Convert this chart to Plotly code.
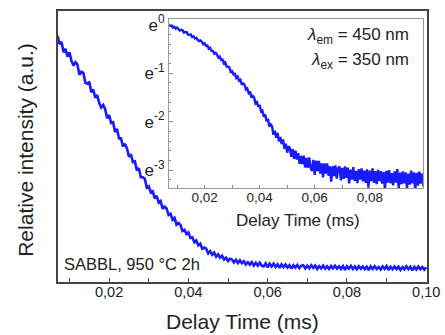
import numpy as np
import plotly.graph_objects as go

# Delay time (ms), read every 0.0005 ms from 0.007 to 0.100
t_ms = [round(0.007 + 0.0005 * i, 4) for i in range(187)]
# ln(relative intensity) (natural-log axis), noisy trace
ln_intensity = [
    0.01, -0.025, -0.015, -0.06, -0.045, -0.08, -0.06, -0.10, -0.12, -0.105,
    -0.115, -0.165, -0.15, -0.155, -0.205, -0.21, -0.20, -0.255, -0.24, -0.285,
    -0.27, -0.315, -0.34, -0.325, -0.35, -0.405, -0.385, -0.435, -0.43, -0.495,
    -0.475, -0.54, -0.54, -0.60, -0.58, -0.615, -0.68, -0.66, -0.725, -0.72,
    -0.80, -0.78, -0.865, -0.865, -0.88, -0.975, -0.96, -1.025, -1.015, -1.10,
    -1.07, -1.155, -1.135, -1.24, -1.21, -1.235, -1.335, -1.315, -1.41, -1.38,
    -1.50, -1.47, -1.505, -1.625, -1.60, -1.69, -1.655, -1.785, -1.77, -1.90,
    -1.85, -1.99, -1.94, -2.10, -2.06, -2.095, -2.27, -2.185, -2.33, -2.235,
    -2.41, -2.315, -2.46, -2.365, -2.56, -2.455, -2.64, -2.505, -2.55, -2.725,
    -2.57, -2.765, -2.60, -2.78, -2.65, -2.87, -2.71, -2.875, -2.70, -2.945,
    -2.75, -2.95, -2.74, -2.95, -3.02, -2.79, -3.10, -2.805, -3.02, -2.81,
    -3.07, -2.86, -3.15, -2.86, -3.07, -2.86, -3.115, -2.92, -3.235, -2.92,
    -3.125, -2.90, -3.175, -2.96, -2.925, -3.21, -2.955, -3.18, -2.925, -3.16,
    -2.95, -3.275, -2.99, -3.195, -2.94, -3.22, -3.015, -3.27, -2.98, -3.195,
    -2.965, -3.23, -3.01, -3.265, -2.985, -3.36, -3.01, -3.225, -2.965, -3.26,
    -3.02, -3.29, -2.995, -3.225, -3.02, -3.28, -3.04, -3.395, -3.015, -3.255,
    -3.00, -3.27, -3.06, -3.315, -3.025, -3.255, -2.98, -3.38, -3.05, -3.29,
    -3.025, -3.275, -3.045, -3.37, -3.07, -3.30, -3.01, -3.275, -3.045, -3.415,
    -3.055, -3.32, -3.03, -3.28, -3.07, -3.345, -3.105,
]
intensity = list(np.exp(ln_intensity))

inset_ticks = [0, -1, -2, -3]
inset_ticktext = ["e<sup>0</sup>", "e<sup>-1</sup>", "e<sup>-2</sup>", "e<sup>-3</sup>"]

FONT = "Liberation Sans, Arial, sans-serif"
TXT = "#222222"
BLUE = "#1a1aff"

fig = go.Figure()
fig.add_trace(go.Scatter(x=t_ms, y=intensity, mode="lines",
                         line=dict(color=BLUE, width=2.6), xaxis="x", yaxis="y",
                         showlegend=False))
fig.add_trace(go.Scatter(x=t_ms, y=intensity, mode="lines",
                         line=dict(color=BLUE, width=2.4), xaxis="x2", yaxis="y2",
                         showlegend=False))

fig.update_layout(
    width=445, height=335,
    margin=dict(l=58, r=12, t=5, b=53),
    paper_bgcolor="white", plot_bgcolor="white",
    separators=",.",
    font=dict(family=FONT, color=TXT),
    xaxis=dict(domain=[0, 1], range=[0.0071, 0.1002], tick0=0, dtick=0.02,
               tickformat=".2f", ticks="inside", ticklen=4, tickcolor="#444",
               minor=dict(dtick=0.01, ticks="inside", ticklen=4, tickcolor="#444"),
               showline=True, linecolor="#444", linewidth=1.5, mirror=True,
               ticklabeloverflow="allow", ticklabelstandoff=-4,
               showgrid=False, zeroline=False, tickfont=dict(size=14.5, color=TXT)),
    yaxis=dict(domain=[0, 1], range=[-0.016, 1.114], showticklabels=False,
               ticks="", showline=True, linecolor="#444", linewidth=1.5, mirror=True,
               showgrid=False, zeroline=False),
    xaxis2=dict(domain=[0.301, 0.989], anchor="y2", range=[0.0071, 0.0993],
                tick0=0, dtick=0.02, tickformat=".2f", ticks="inside", ticklen=3,
                tickcolor="#888", ticklabelstandoff=-3,
                minor=dict(dtick=0.01, ticks="inside", ticklen=3, tickcolor="#888"),
                showline=True, linecolor="#999", linewidth=1.2, mirror=True,
                showgrid=False, zeroline=False, tickfont=dict(size=13.5, color=TXT)),
    yaxis2=dict(domain=[0.3466, 0.971], anchor="x2", type="log",
                range=[-3.37 / np.log(10), 0.12 / np.log(10)],
                tickmode="array", tickvals=[float(np.exp(k)) for k in inset_ticks],
                ticktext=inset_ticktext, ticks="inside", ticklen=4, tickcolor="#888",
                minor=dict(tickmode="array",
                           tickvals=[float(np.exp(-k / 5)) for k in range(1, 17) if k % 5],
                           ticks="inside", ticklen=2, tickcolor="#888"),
                showline=True, linecolor="#999", linewidth=1.2, mirror=True,
                showgrid=False, zeroline=False, tickfont=dict(size=17, color=TXT)),
    annotations=[
        dict(text="Delay Time (ms)", xref="paper", yref="paper", x=0.5, y=-0.144,
             xanchor="center", yanchor="middle", showarrow=False,
             font=dict(size=21, color=TXT)),
        dict(text="Relative intensity (a.u.)", xref="paper", yref="paper",
             x=-0.09, y=0.487, textangle=-90, xanchor="center", yanchor="middle",
             showarrow=False, font=dict(size=21, color=TXT)),
        dict(text="Delay Time (ms)", xref="paper", yref="paper", x=0.651, y=0.228,
             xanchor="center", yanchor="middle", showarrow=False,
             font=dict(size=17, color=TXT)),
        dict(text="<i>λ</i><sub>em</sub> = 450 nm", xref="paper", yref="paper",
             x=0.957, y=0.906, xanchor="right", yanchor="middle", showarrow=False,
             font=dict(size=17, color=TXT)),
        dict(text="<i>λ</i><sub>ex</sub> = 350 nm", xref="paper", yref="paper",
             x=0.957, y=0.816, xanchor="right", yanchor="middle", showarrow=False,
             font=dict(size=17, color=TXT)),
        dict(text="SABBL, 950 °C 2h", xref="paper", yref="paper",
             x=0.012, y=0.065, xanchor="left", yanchor="middle", showarrow=False,
             font=dict(size=16.5, color=TXT)),
    ],
)

fig.write_html("out.html")
